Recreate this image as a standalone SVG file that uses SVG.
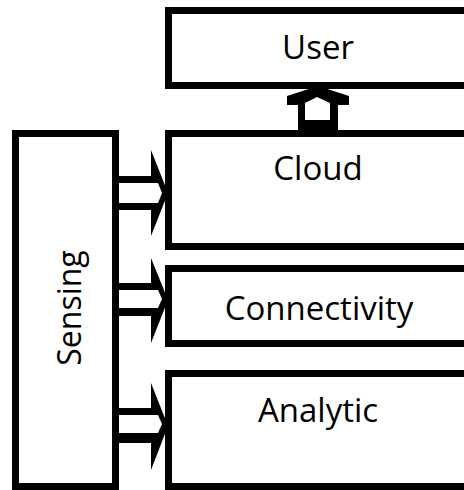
<svg xmlns="http://www.w3.org/2000/svg" width="464" height="490" viewBox="0 0 464 490">
<style>
.box{fill:#fff;stroke:#000;stroke-width:7}
.blk{fill:#000}
.wht{fill:#fff}
.lbl{font-family:"Open Sans","DejaVu Sans",sans-serif;font-size:33px;fill:#000;text-anchor:middle}
</style>
<rect width="464" height="490" fill="#fff"/>
<g id="connectors">
<g id="a-cloud">
<polygon class="blk" points="112,176 151,176 151,150 168,193 151,236 151,210 112,210"/>
<polygon class="wht" points="112,183 158,183 162,193 158,203 112,203"/>
</g>
<g id="a-conn">
<polygon class="blk" points="112,283 151,283 151,258 168,300 151,343 151,316 112,316"/>
<polygon class="wht" points="112,290 158,290 162,299 158,308 112,308"/>
</g>
<g id="a-anal">
<polygon class="blk" points="112,408 151,408 151,383 168,426 151,470 151,443 112,443"/>
<polygon class="wht" points="112,415 158,415 162,424 158,433 112,433"/>
</g>
<g id="a-user">
<polygon class="blk" points="287,96 318,86 349,96 349,105 338,105 338,132 298,132 298,105 287,105"/>
<polygon class="wht" points="305,103 317,97 330,103 330,120 305,120"/>
</g>
</g>
<g id="user">
<rect class="box" x="168.5" y="10.5" width="302" height="75"/>
<text class="lbl" x="318" y="59">User</text>
</g>
<g id="cloud">
<rect class="box" x="168.5" y="133.5" width="302" height="113"/>
<text class="lbl" x="318" y="180">Cloud</text>
</g>
<g id="connectivity">
<rect class="box" x="168.5" y="268.5" width="302" height="75"/>
<text class="lbl" x="319" y="320">Connectivity</text>
</g>
<g id="analytic">
<rect class="box" x="168.5" y="373.5" width="302" height="113"/>
<text class="lbl" x="318" y="422">Analytic</text>
</g>
<g id="sensing">
<rect class="box" x="15.5" y="133.5" width="100" height="353"/>
<text class="lbl" style="font-size:32px" transform="translate(81,308) rotate(-90)" x="0" y="0">Sensing</text>
</g>
</svg>
